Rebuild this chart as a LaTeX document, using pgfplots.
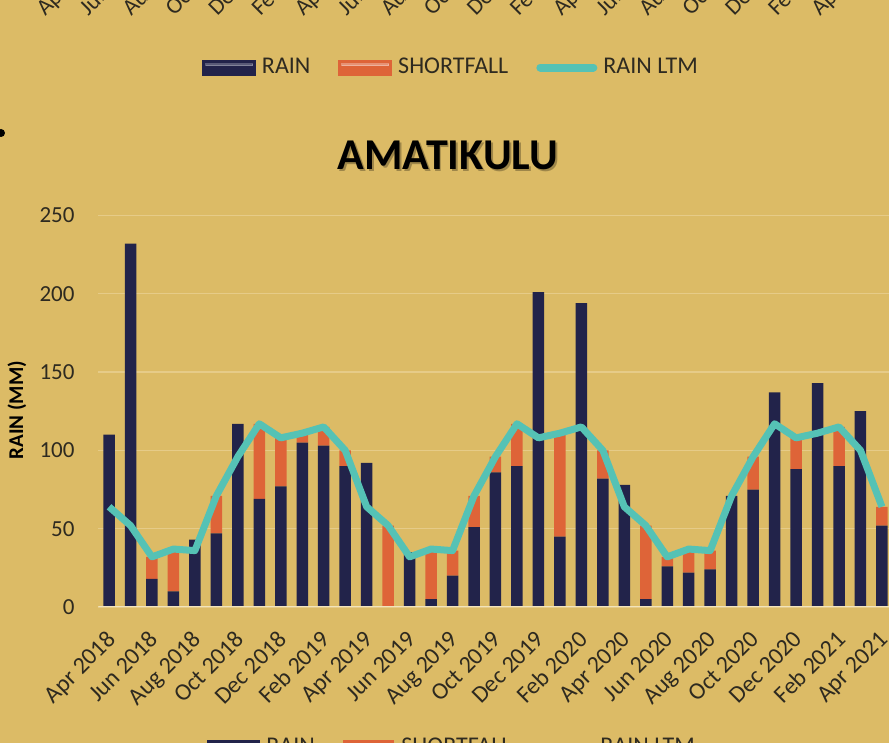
\documentclass[border=0pt]{standalone}
\usepackage{pgfplots}
\pgfplotsset{compat=1.18}
\usepackage{pgfplotstable}
\usepackage{fontspec}
\setmainfont{Carlito}

\definecolor{bgcol}{HTML}{DCBB66}
\definecolor{navy}{HTML}{22234A}
\definecolor{sfcol}{HTML}{DE6438}
\definecolor{ltmcol}{HTML}{55C2B5}
\definecolor{gridcol}{HTML}{E6CB88}
\definecolor{basecol}{HTML}{F2E4BC}
\definecolor{txtcol}{HTML}{2E2A20}

% month index, rain, shortfall (to LTM), long term mean
\pgfplotstableread{
x rain sf ltm
0 110 0 64
1 232 0 52
2 18 14 32
3 10 27 37
4 43 0 36
5 47 24 71
6 117 0 96
7 69 48 117
8 77 31 108
9 105 6 111
10 103 12 115
11 90 10 100
12 92 0 64
13 0 52 52
14 35 0 32
15 5 32 37
16 20 16 36
17 51 20 71
18 86 10 96
19 90 27 117
20 201 0 108
21 45 66 111
22 194 0 115
23 82 18 100
24 78 0 64
25 5 47 52
26 26 6 32
27 22 15 37
28 24 12 36
29 71 0 71
30 75 21 96
31 137 0 117
32 88 20 108
33 143 0 111
34 90 25 115
35 125 0 100
36 52 12 64
}\amatikulu

\newcommand{\monthlabels}{Apr 2018,Jun 2018,Aug 2018,Oct 2018,Dec 2018,Feb 2019,Apr 2019,Jun 2019,Aug 2019,Oct 2019,Dec 2019,Feb 2020,Apr 2020,Jun 2020,Aug 2020,Oct 2020,Dec 2020,Feb 2021,Apr 2021}

\pgfplotsset{
  common/.style={
    at={(49.15pt,68pt)}, anchor=south west,
    scale only axis, width=397.2pt, height=195.75pt,
    xmin=-0.5, xmax=36.5, ymin=0, ymax=250,
  },
}

\begin{document}
\begin{tikzpicture}
\useasboundingbox (0,0) rectangle (444.5pt,371.5pt);
\clip (0,0) rectangle (444.5pt,371.5pt);
\fill[bgcol] (0,0) rectangle (444.5pt,371.5pt);

% cut-off tick labels of the chart above
\foreach \lab [count=\i from 0] in \monthlabels {
  \node[rotate=45, anchor=base west, inner sep=0pt, text=txtcol,
        font=\fontsize{11.5}{13}\selectfont]
    at ({(45+43.05*\i)*0.5pt}, 363pt) {\lab};
}
\fill[black] (0.5pt,305pt) circle (2pt);

% title with a soft shadow
\node[font=\fontsize{22}{26}\bfseries\selectfont, text=black, opacity=0.28]
  at (224.9pt,293pt) {AMATIKULU};
\node[font=\fontsize{22}{26}\bfseries\selectfont, text=black]
  at (224pt,294pt) {AMATIKULU};

\begin{axis}[
  common,
  ybar stacked, bar width=5.75pt,
  axis line style={draw=none},
  major tick length=0pt,
  ytick={0,50,...,250},
  ymajorgrids, grid style={gridcol, line width=0.6pt},
  xtick={0,2,...,36},
  xticklabels/.expand once={\monthlabels},
  tick label style={font=\fontsize{11.5}{13}\selectfont, text=txtcol},
  /pgf/number format/assume math mode=true,
  yticklabel style={inner sep=0pt, anchor=east},
  yticklabel shift=11.7pt,
  xticklabel style={font=\fontsize{12}{14}\selectfont, inner sep=0pt,
    xshift=-2pt, yshift=-11pt, rotate=45, anchor=north east},
  ylabel={RAIN (MM)},
  ylabel style={font=\fontsize{10.5}{12}\bfseries\selectfont, at={(-0.1023,0.503)}, anchor=center},
]
\draw[basecol, line width=1pt] (axis cs:-0.5,0) -- (axis cs:36.5,0);
\addplot[fill=navy, draw=none] table[x=x, y=rain] {\amatikulu};
\addplot[fill=sfcol, draw=none] table[x=x, y=sf] {\amatikulu};
\end{axis}

\begin{axis}[
  common,
  hide axis,
  legend columns=-1,
  legend style={draw=none, fill=none, at={(0.4427,1.378)}, anchor=center,
    font=\fontsize{12}{14}\selectfont, text=txtcol,
    nodes={inner sep=0pt},
    /tikz/every odd column/.append style={column sep=3pt},
    /tikz/every even column/.append style={column sep=14pt}},
]
\addlegendimage{legend image code/.code={
  \fill[navy] (0pt,-3.9pt) rectangle (26.5pt,3.6pt);
  \fill[white, opacity=0.25] (1.5pt,1pt) rectangle (25pt,2pt);}}
\addlegendentry{RAIN}
\addlegendimage{legend image code/.code={
  \fill[sfcol] (0pt,-3.9pt) rectangle (26.5pt,3.6pt);
  \fill[white, opacity=0.3] (1.5pt,1pt) rectangle (25pt,2pt);}}
\addlegendentry{SHORTFALL}
\addplot[ltmcol, line width=3.5pt, line join=round,
  legend image code/.code={\draw[ltmcol, line width=4pt, line cap=round] (1pt,0pt) -- (27.5pt,0pt);}]
  table[x=x, y=ltm] {\amatikulu};
\addlegendentry{RAIN LTM}
\end{axis}

% legend of this chart, cut off by the lower edge
\begin{scope}[font=\fontsize{12}{14}\selectfont]
\fill[navy] (103.5pt,-6pt) rectangle (130pt,1.5pt);
\node[anchor=base west, inner sep=0pt, text=txtcol] at (133pt,-5.15pt) {RAIN};
\fill[sfcol] (171.5pt,-6pt) rectangle (197pt,1.5pt);
\node[anchor=base west, inner sep=0pt, text=txtcol] at (200.5pt,-5.15pt) {SHORTFALL};
\draw[ltmcol, line width=4pt, line cap=round] (270pt,-2.25pt) -- (296.5pt,-2.25pt);
\node[anchor=base west, inner sep=0pt, text=txtcol] at (300pt,-5.15pt) {RAIN LTM};
\end{scope}
\end{tikzpicture}
\end{document}
